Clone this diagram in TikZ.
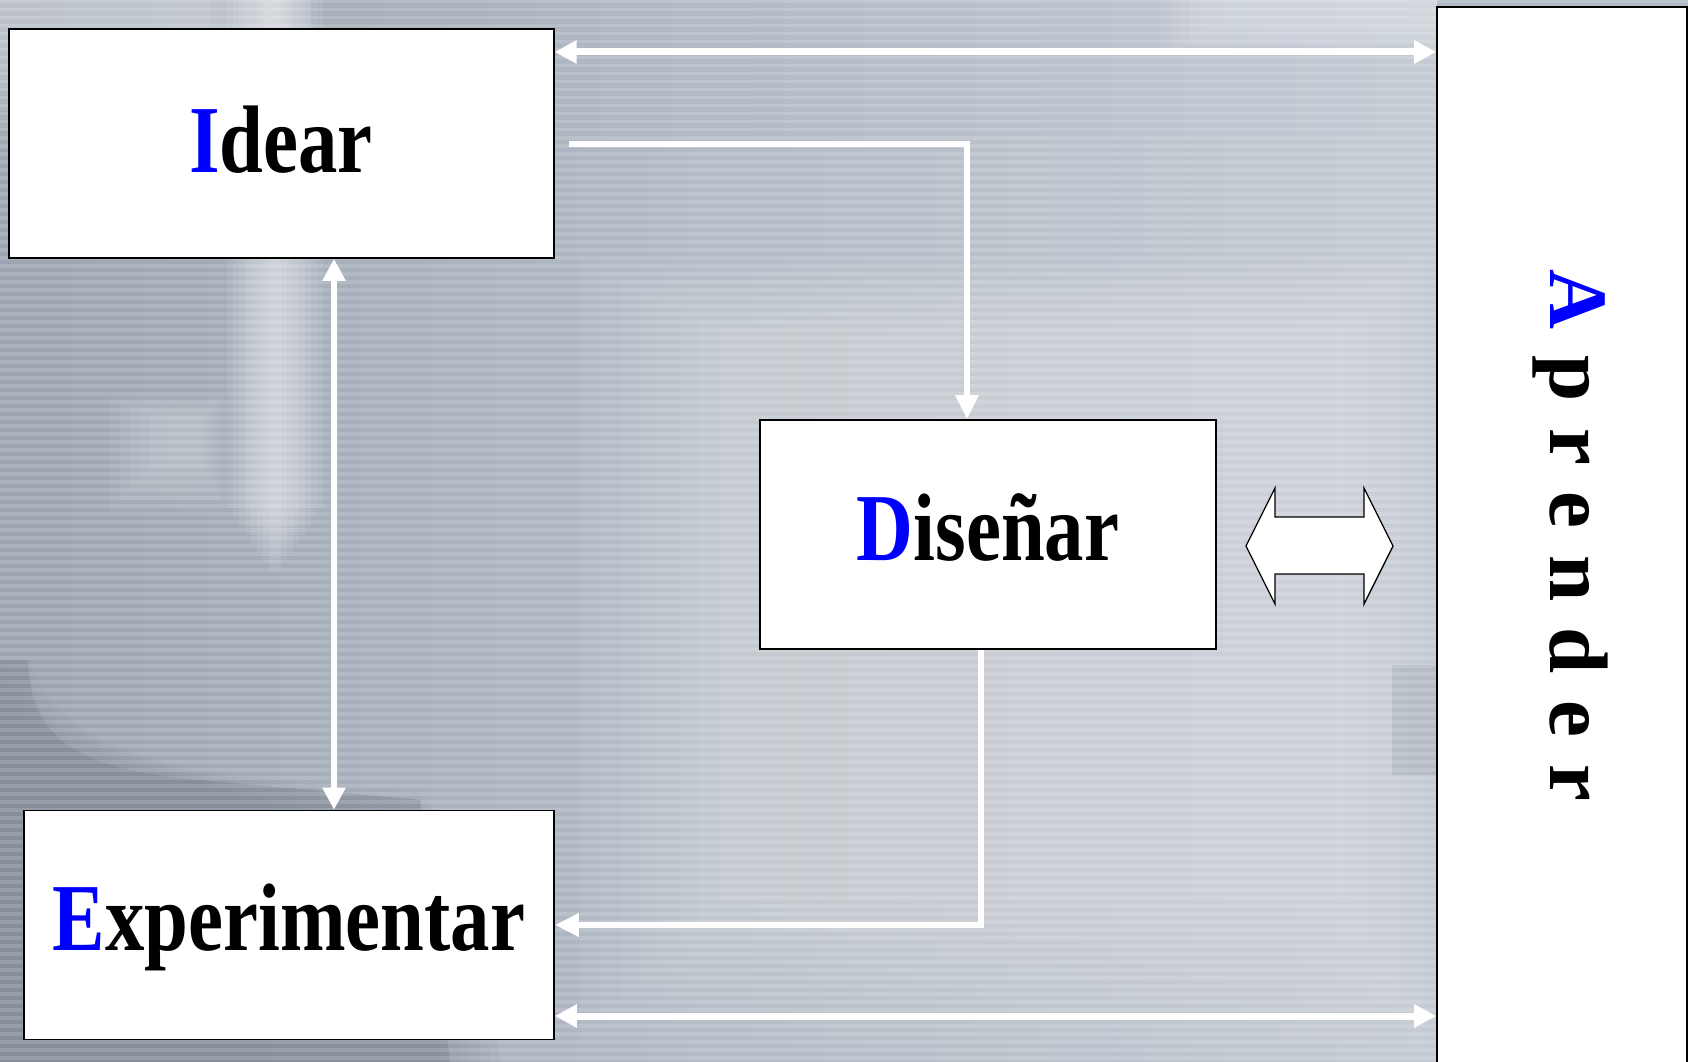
\documentclass[tikz,border=0pt]{standalone}
\usepackage{fontspec}
\setmainfont{Liberation Serif}
\usetikzlibrary{arrows.meta,calc}
\definecolor{bgbase}{HTML}{B3BBC6}
\definecolor{bgdark}{HTML}{8A93A0}
\definecolor{bglight}{HTML}{D3D8DF}
\definecolor{letterblue}{RGB}{0,0,255}
\newcommand\boxlabel[2]{\scalebox{0.82}[1]{\textcolor{letterblue}{#1}#2}}
\begin{document}
\begin{tikzpicture}[x=1pt,y=-1pt,
  box/.style={draw=black,line width=1.6pt,fill=white,rectangle,inner sep=0pt},
  lab/.style={anchor=base,inner sep=0pt,font=\fontsize{96}{100}\selectfont\bfseries},
  conn/.style={draw=white,line width=6pt},
  bothway/.style={conn,{Triangle[length=22pt,width=22pt]}-{Triangle[length=22pt,width=22pt]}},
  oneway/.style={conn,-{Triangle[length=24pt,width=22pt]}},
  blob/.style={opacity=0.08}
]
\useasboundingbox (0,0) rectangle (1688,1062);
% ---- background ----
\fill[bgbase] (0,0) rectangle (1688,1062);
\shade[left color=bgdark!80!bgbase, right color=bgbase,opacity=0.7] (0,0) rectangle (700,1062);
\shade[left color=bgbase, right color=bglight!70!bgbase,opacity=0.8] (700,0) rectangle (1437,1062);
% dark lower-left
\foreach \w in {0,10,...,60}{
  \fill[bgdark,opacity=0.12] (-10,660+\w) -- (30-\w/3,660+\w) .. controls (60,760) and (200,780) .. (420+\w,790+\w) -- (440+\w,1062) -- (-10,1062) -- cycle;
}
\fill[bgdark!85!black,opacity=0.35] (0,660) -- (28,660) .. controls (30,740) and (80,770) .. (200,780) -- (420,800) -- (450,1062) -- (0,1062) -- cycle;
% light vertical streak
\foreach \w in {6,12,...,48}{
  \fill[white,opacity=0.08] (275-\w,0) rectangle (275+\w,580-1.5*\w);
}
% light patch left
\foreach \w in {10,20,...,50}{
  \fill[white,opacity=0.05] (100+\w,390+\w/2) rectangle (230-\w/2,520-\w);
}
% light top-left
\foreach \w in {10,30,...,110}{
  \fill[white,opacity=0.07] (0,0) rectangle (320-\w,40+\w);
}
% light centre blobs
\foreach \w in {20,40,...,160}{
  \fill[white,opacity=0.035] (560+\w,250+\w/2) rectangle (1430-\w/2,1062-\w);
}
\foreach \w in {10,20,...,60}{
  \fill[white,opacity=0.05] (1150+\w,0) rectangle (1437,60-\w/2);
}
% darker patch right strip
\fill[bgdark,opacity=0.25] (1392,665) rectangle (1437,775);
% stripes
\foreach \yy in {0,8,...,1062}{
  \fill[white,opacity=0.15] (0,\yy) rectangle (1688,\yy+3.5);
}
% ---- boxes ----
\node[box,minimum width=545pt,minimum height=229pt] (idear) at (281.3,143.5) {};
\node[box,minimum width=530pt,minimum height=229pt] (exper) at (289,925) {};
\node[box,minimum width=456pt,minimum height=229pt] (disen) at (988,534.5) {};
\node[box,minimum width=250pt,minimum height=1060pt] (apren) at (1562,537) {};
\node[lab] (idearT) at (281,172) {\boxlabel{I}{dear}};
\node[lab] (experT) at (289,950) {\boxlabel{E}{xperimentar}};
\node[lab] (disenT) at (988,560) {\boxlabel{D}{ise\~nar}};
\node[anchor=base,inner sep=0pt,rotate=-90,font=\fontsize{83}{90}\selectfont\bfseries] (aprenT) at (1550,535)
  {\textcolor{letterblue}{A}\hspace{26.6pt}p\hspace{26.6pt}r\hspace{26.6pt}e\hspace{26.6pt}n\hspace{26.6pt}d\hspace{26.6pt}e\hspace{26.6pt}r};
% ---- connectors ----
\coordinate (ytop) at (0,52);
\coordinate (ybot) at (0,1016);
\coordinate (xv) at (334,0);
\coordinate (start1) at (569,144);
\coordinate (bend1) at (967,144);
\coordinate (ymid) at (0,925);
\coordinate (x2) at (981,0);
\draw[bothway,line width=7pt] (idear.east |- ytop) -- (apren.west |- ytop);
\draw[bothway,line width=7pt] (exper.east |- ybot) -- (apren.west |- ybot);
\draw[bothway] (idear.south -| xv) -- (exper.north -| xv);
\draw[oneway] (start1) -- (bend1) -- (disen.north -| bend1);
\draw[oneway] (disen.south -| x2) -- (x2 |- ymid) -- (exper.east |- ymid);
% double block arrow between Disenar and Aprender
\draw[black,line width=1.3pt,fill=white,line join=miter]
  (1246,546) -- (1275,488) -- (1275,517) -- (1364,517) -- (1364,488) -- (1393,546)
  -- (1364,604) -- (1364,574) -- (1275,574) -- (1275,604) -- cycle;
\end{tikzpicture}
\end{document}
